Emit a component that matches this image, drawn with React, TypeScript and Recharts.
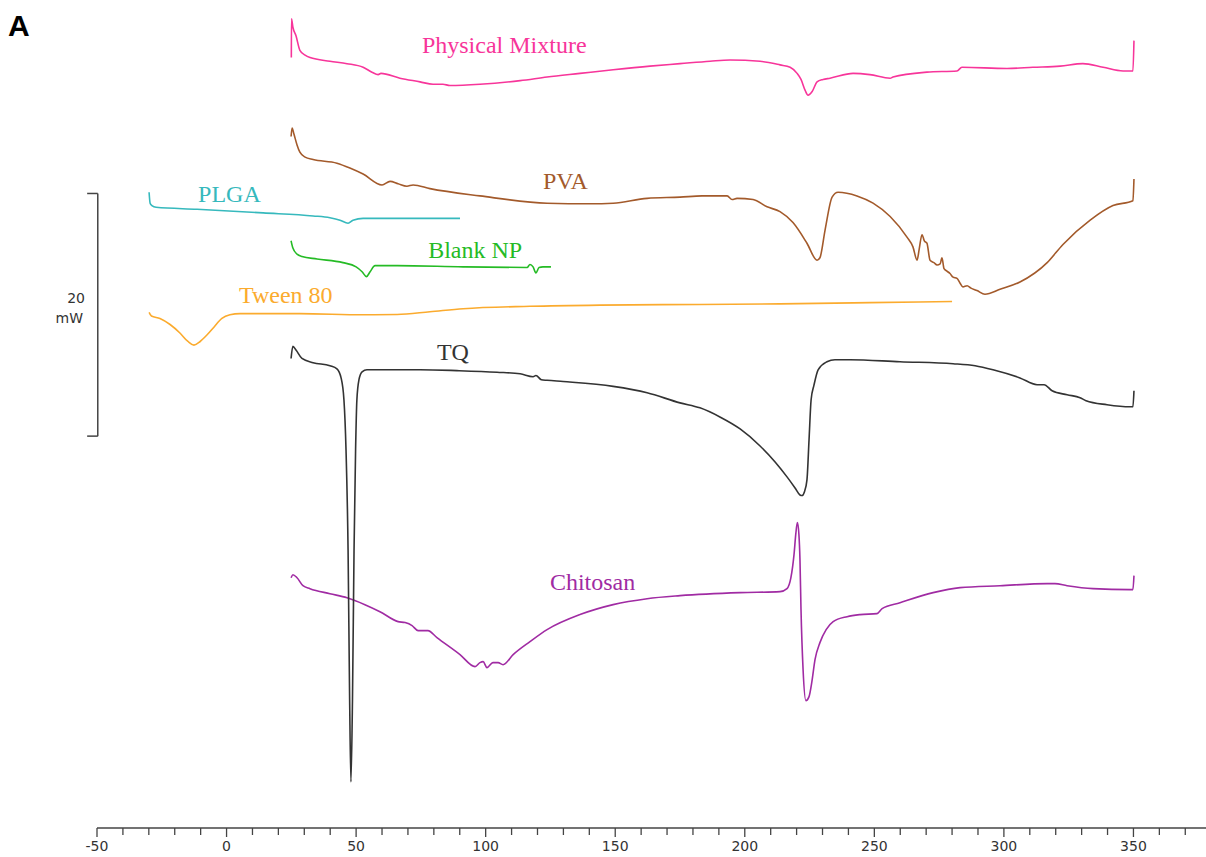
import React from "react";
import { LineChart, Line, XAxis, YAxis, ReferenceLine, ReferenceDot } from "recharts";

// DSC thermograms: [temperature °C, heat flow mW] (curves offset vertically as in the figure)
const physicalMixture: [number, number][] = [
  [25.0, 63.5], [25.05, 66.7], [25.6, 66.0], [26.8, 65.3], [28.3, 64.1], [30.3, 63.7], [32.2, 63.5],
  [39.9, 63.2], [46.5, 63.0], [52.7, 62.7], [56.1, 62.3], [58.5, 62.1], [59.6, 62.2], [66.9, 61.8],
  [74.7, 61.5], [79.7, 61.3], [83.5, 61.3], [86.2, 61.2], [97.8, 61.3], [113.3, 61.6], [123.7, 61.9],
  [136.4, 62.2], [149.2, 62.5], [163.4, 62.8], [175.0, 63.0], [186.6, 63.2], [194.3, 63.3], [205.9, 63.2],
  [213.6, 62.9], [217.5, 62.7], [220.2, 62.2], [221.7, 61.7], [223.3, 60.8], [224.4, 60.4], [226.0, 60.7],
  [227.9, 61.5], [230.2, 61.7], [232.9, 61.8], [241.8, 62.2], [248.3, 62.1], [256.1, 61.8], [257.2, 61.9],
  [270.3, 62.3], [281.9, 62.4], [283.8, 62.7], [301.2, 62.6], [311.2, 62.7], [321.7, 62.8], [330.5, 63.0],
  [338.3, 62.7], [346.0, 62.4], [349.8, 62.4], [350.2, 64.9],
];

const pva: [number, number][] = [
  [24.9, 57.0], [25.3, 57.7], [26.0, 57.2], [27.2, 56.3], [28.3, 55.7], [30.3, 55.3], [33.4, 55.1],
  [42.6, 54.8], [47.6, 54.4], [52.7, 53.9], [60.0, 53.0], [63.1, 53.3], [66.2, 53.1], [69.6, 52.9],
  [72.0, 53.0], [78.5, 52.7], [97.8, 52.1], [123.7, 51.5], [140.3, 51.45], [149.2, 51.5], [162.3, 51.9],
  [175.0, 52.0], [183.5, 52.1], [193.2, 52.1], [195.1, 51.8], [197.0, 51.9], [203.2, 51.8], [208.6, 51.2],
  [213.6, 50.8], [218.6, 49.9], [224.0, 48.2], [227.9, 46.8], [229.0, 47.0], [231.0, 49.3], [233.7, 52.0],
  [236.0, 52.4], [243.3, 52.1], [249.5, 51.5], [256.1, 50.4], [262.6, 48.7], [264.9, 47.9], [266.5, 46.8],
  [267.3, 47.7], [268.4, 48.9], [269.3, 48.4], [270.3, 48.2], [271.5, 46.8], [273.0, 46.6], [274.2, 46.4],
  [275.4, 46.5], [276.1, 47.0], [276.9, 46.1], [278.0, 45.9], [279.2, 45.7], [280.4, 45.4], [281.9, 45.3],
  [283.1, 44.9], [284.2, 44.6], [285.8, 44.7], [287.3, 44.5], [289.6, 44.3], [292.7, 44.0], [298.5, 44.4],
  [306.2, 45.0], [316.7, 46.6], [322.8, 48.1], [333.3, 50.1], [342.1, 51.3], [349.8, 51.7], [350.2, 53.5],
];

const plga: [number, number][] = [
  [-29.9, 52.4], [-29.5, 51.5], [-28.8, 51.3], [-27.2, 51.16], [-11.4, 51.0], [14.1, 50.7], [33.4, 50.45],
  [39.9, 50.3], [43.8, 50.1], [46.9, 49.85], [48.8, 50.1], [52.7, 50.25], [90.1, 50.25],
];

const blankNP: [number, number][] = [
  [24.9, 48.4], [25.6, 47.8], [27.2, 47.3], [29.1, 47.1], [34.9, 46.9], [44.9, 46.6], [50.0, 46.25],
  [52.3, 45.85], [54.0, 45.45], [55.4, 45.85], [57.3, 46.35], [65.8, 46.35], [91.3, 46.25], [116.0, 46.2],
  [117.1, 46.45], [118.3, 46.25], [119.4, 45.75], [120.6, 46.2], [122.1, 46.25], [125.2, 46.25],
];

const tween80: [number, number][] = [
  [-29.9, 42.5], [-29.0, 42.2], [-25.7, 42.0], [-21.8, 41.5], [-18.0, 40.8], [-14.9, 40.1], [-12.6, 39.8],
  [-10.2, 40.1], [-7.5, 40.65], [-4.8, 41.3], [-1.8, 42.0], [1.3, 42.3], [5.2, 42.4], [28.3, 42.4],
  [52.7, 42.3], [65.8, 42.32], [78.5, 42.55], [91.3, 42.8], [117.1, 43.0], [144.1, 43.1], [182.7, 43.15],
  [213.6, 43.2], [248.3, 43.3], [280.0, 43.4],
];

const tq: [number, number][] = [
  [24.9, 38.7], [25.6, 39.7], [26.8, 39.4], [29.1, 38.7], [33.4, 38.35], [39.9, 38.1], [42.6, 37.85],
  [44.2, 37.1], [45.3, 35.3], [46.1, 31.2], [46.9, 22.9], [47.5, 10.6], [48.0, 3.8], [48.6, 10.6],
  [49.2, 22.9], [49.8, 31.2], [50.3, 35.3], [51.1, 36.95], [52.3, 37.6], [54.2, 37.77], [59.2, 37.77],
  [74.7, 37.77], [88.9, 37.7], [104.4, 37.57], [113.3, 37.44], [118.3, 37.2], [119.4, 37.3], [121.5, 36.95],
  [123.7, 36.9], [129.9, 36.8], [149.2, 36.4], [162.3, 35.88], [175.0, 35.04], [182.7, 34.63], [190.4, 33.88],
  [198.2, 32.89], [205.9, 31.49], [211.7, 30.17], [216.3, 28.94], [219.4, 28.03], [221.3, 27.45], [222.1, 27.4],
  [223.0, 27.7], [224.0, 28.7], [224.8, 32.0], [225.6, 35.3], [226.7, 36.5], [228.3, 37.77], [231.7, 38.43],
  [234.8, 38.6], [240.6, 38.6], [259.9, 38.43], [280.4, 38.27], [288.9, 38.1], [295.8, 37.77], [306.2, 37.1],
  [312.8, 36.54], [315.5, 36.54], [318.6, 36.04], [324.4, 35.71], [329.4, 35.47], [331.7, 35.22], [339.8, 34.89],
  [348.7, 34.72], [349.8, 34.72], [350.2, 36.04],
];

const chitosan: [number, number][] = [
  [24.9, 20.63], [25.6, 20.88], [27.2, 20.63], [29.5, 19.97], [32.2, 19.73], [39.9, 19.31], [46.5, 18.98],
  [53.4, 18.41], [59.2, 17.83], [66.2, 17.01], [68.9, 16.93], [71.6, 16.68], [73.9, 16.27], [77.7, 16.27],
  [81.2, 15.69], [90.1, 14.29], [95.9, 13.3], [97.8, 13.63], [99.0, 13.71], [100.5, 13.22], [102.8, 13.63],
  [104.8, 13.63], [106.7, 13.46], [110.6, 14.29], [117.1, 15.36], [123.7, 16.35], [136.4, 17.59], [149.2, 18.41],
  [162.3, 18.9], [175.0, 19.15], [198.2, 19.4], [213.6, 19.48], [216.3, 19.73], [217.8, 20.63], [219.0, 22.53],
  [219.7, 24.26], [220.3, 25.17], [220.9, 24.17], [221.3, 22.12], [221.7, 18.0], [222.5, 13.05], [223.6, 10.5],
  [224.8, 10.83], [225.9, 12.06], [227.1, 13.88], [229.0, 15.28], [231.4, 16.35], [234.1, 17.01], [239.5, 17.42],
  [244.5, 17.59], [251.0, 17.67], [253.0, 18.08], [259.9, 18.57], [272.7, 19.4], [283.1, 19.81], [298.5, 19.97],
  [316.7, 20.14], [319.7, 20.14], [324.4, 19.97], [334.4, 19.73], [348.7, 19.65], [349.8, 19.65], [350.2, 20.8],
];

const tempTicks = [
  -50, -40, -30, -20, -10, 0, 10, 20, 30, 40, 50, 60, 70, 80, 90, 100, 110, 120, 130, 140, 150, 160, 170,
  180, 190, 200, 210, 220, 230, 240, 250, 260, 270, 280, 290, 300, 310, 320, 330, 340, 350, 360, 370,
];
const labelledTicks = [-50, 0, 50, 100, 150, 200, 250, 300, 350];

const rows = (pts: [number, number][]) => pts.map(([t, v]) => ({ t, v }));

const series = [
  { name: "Physical Mixture", color: "#f7359a", data: physicalMixture, lx: 75.4, ly: 63.9 },
  { name: "PVA", color: "#a35a2b", data: pva, lx: 122.1, ly: 52.7 },
  { name: "PLGA", color: "#36b9bd", data: plga, lx: -11.0, ly: 51.6 },
  { name: "Blank NP", color: "#25bb25", data: blankNP, lx: 77.8, ly: 47.0 },
  { name: "Tween 80", color: "#fbab2e", data: tween80, lx: 4.8, ly: 43.3 },
  { name: "Chitosan", color: "#a02ba3", data: chitosan, lx: 124.8, ly: 19.6 },
  { name: "TQ", color: "#333333", data: tq, lx: 81.2, ly: 38.6 },
];

function TempTick({ x, y, payload }: any) {
  const axisY = y - 8;
  const major = labelledTicks.includes(payload.value);
  return (
    <g>
      <line x1={x} x2={x} y1={axisY} y2={axisY + (major ? 9 : 7)} stroke="#444" strokeWidth={1.3} />
      {major && (
        <text x={x} y={axisY + 23} textAnchor="middle" fontSize={14} fill="#333" fontFamily="DejaVu Sans">
          {payload.value}
        </text>
      )}
    </g>
  );
}

export default function App() {
  return (
    <div style={{ position: "absolute", left: 0, top: 0, width: 1206, height: 857, background: "#fff" }}>
      <svg width={40} height={45} style={{ position: "absolute", left: 0, top: 0 }}>
        <text x={8} y={36} fontSize={30} fontWeight="bold" fontFamily="Liberation Sans" fill="#000">
          A
        </text>
      </svg>
      <LineChart width={1206} height={857} margin={{ top: 3, right: 0, bottom: 1, left: 97 }}>
        <XAxis
          type="number"
          dataKey="t"
          domain={[-50, 378]}
          ticks={tempTicks}
          interval={0}
          height={28}
          tickLine={false}
          tickSize={6}
          tickMargin={2}
          axisLine={{ stroke: "#444", strokeWidth: 1.5 }}
          tick={<TempTick />}
        />
        <YAxis hide type="number" domain={[0, 68]} allowDataOverflow />
        {/* 20 mW scale bar */}
        <ReferenceLine
          segment={[{ x: -49.7, y: 32.3 }, { x: -49.7, y: 52.3 }]}
          stroke="#444"
          strokeWidth={1.5}
          ifOverflow="visible"
        />
        <ReferenceLine
          segment={[{ x: -53.8, y: 52.3 }, { x: -49.7, y: 52.3 }]}
          stroke="#444"
          strokeWidth={1.5}
          ifOverflow="visible"
        />
        <ReferenceLine
          segment={[{ x: -53.8, y: 32.3 }, { x: -49.7, y: 32.3 }]}
          stroke="#444"
          strokeWidth={1.5}
          ifOverflow="visible"
        />
        <ReferenceDot
          x={-50}
          y={42.3}
          r={1}
          ifOverflow="visible"
          shape={(p: any) => (
            <g>
              <text x={p.cx - 12} y={p.cy - 12} textAnchor="end" fontSize={14} fill="#333" fontFamily="DejaVu Sans">
                20
              </text>
              <text x={p.cx - 14} y={p.cy + 8} textAnchor="end" fontSize={14} fill="#333" fontFamily="DejaVu Sans">
                mW
              </text>
            </g>
          )}
        />
        {series.map((s) => (
          <Line
            key={s.name}
            data={rows(s.data)}
            dataKey="v"
            name={s.name}
            type="monotone"
            stroke={s.color}
            strokeWidth={1.6}
            dot={false}
            activeDot={false}
            isAnimationActive={false}
          />
        ))}
        {series.map((s) => (
          <ReferenceDot
            key={"lbl-" + s.name}
            x={s.lx}
            y={s.ly}
            r={1}
            ifOverflow="visible"
            shape={(p: any) => (
              <text x={p.cx} y={p.cy} fontSize={24} fill={s.color} fontFamily="Liberation Serif">
                {s.name}
              </text>
            )}
          />
        ))}
      </LineChart>
    </div>
  );
}
